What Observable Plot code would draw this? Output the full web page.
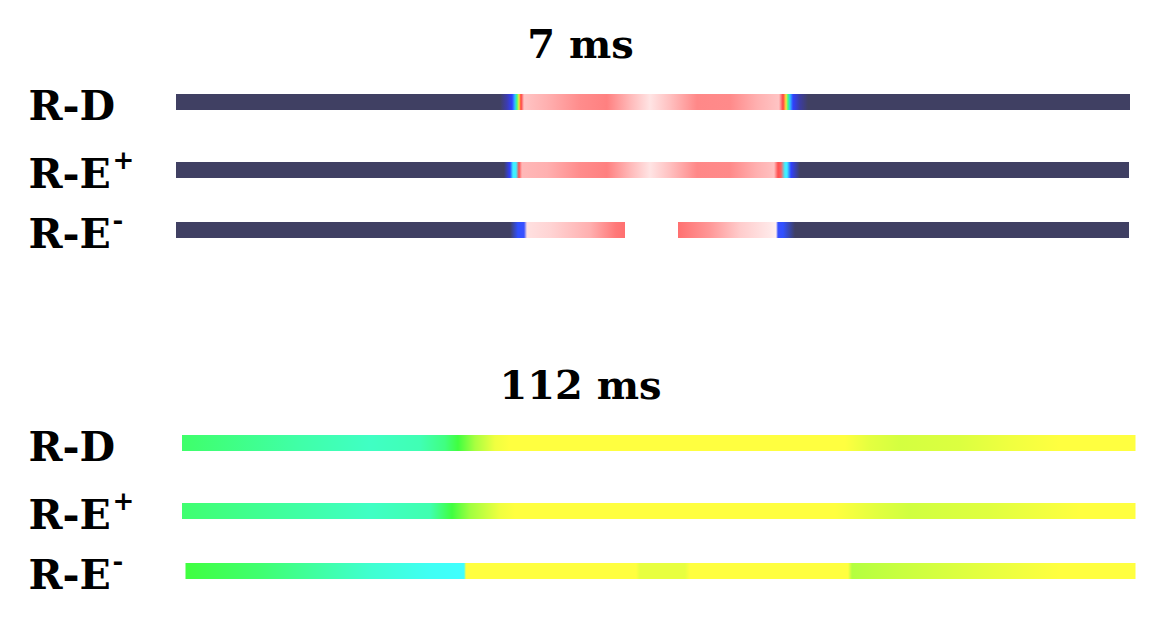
<!DOCTYPE html>
<html>
<head>
<meta charset="utf-8">
<script src="https://cdn.jsdelivr.net/npm/d3@7"></script>
<script src="https://cdn.jsdelivr.net/npm/@observablehq/plot@0.6"></script>
<style>
  html, body { margin: 0; padding: 0; background: #fff; }
  #chart { width: 1165px; height: 620px; }
</style>
</head>
<body>
<div id="chart"></div>
<script>
// ---- data (positions along the strip, in arbitrary position units) ----
const panels = ["7 ms", "112 ms"];
const rows = ["R-D", "R-E+", "R-E-"];
const rowBase = ["R-D", "R-E", "R-E"];
const rowSup = ["", "+", "-"];

const dark = "#404063";

// each segment: panel, row, start, end, colour stops [position, colour]
const seg7_RD = {time: "7 ms", row: "R-D", x1: 0, x2: 954, stops: [
  [0, dark], [324, dark], [331, "#3c3cb0"], [336, "#3040ff"], [339, "#30c0ff"], [341, "#40ff80"],
  [343, "#ffe040"], [345, "#ff4040"], [348, "#ffc4c4"], [371, "#ffb0b0"], [404, "#ff8c8c"],
  [431, "#ff8080"], [454, "#ffb8b8"], [474, "#ffe4e4"], [494, "#ffc0c0"], [521, "#ff8888"],
  [554, "#ff8a8a"], [581, "#ffb0b0"], [603, "#ffc4c4"], [607, "#ff4040"], [610, "#ffe040"],
  [612, "#40ff80"], [614, "#30c0ff"], [617, "#3040ff"], [624, "#3c3ca0"], [632, dark], [954, dark]
]};
const seg7_REp = {time: "7 ms", row: "R-E+", x1: 0, x2: 953, stops: [
  [0, dark], [328, dark], [334, "#3040ff"], [337, "#40f0ff"], [340, "#40f0ff"], [343, "#ff5050"],
  [346, "#ffb8b8"], [371, "#ffb0b0"], [404, "#ff8c8c"], [431, "#ff8080"], [454, "#ffb8b8"],
  [474, "#ffe4e4"], [494, "#ffc0c0"], [521, "#ff8888"], [554, "#ff8a8a"], [581, "#ffb0b0"],
  [598, "#ffc0c0"], [602, "#ff5050"], [605, "#ff6060"], [609, "#40f0ff"], [611, "#40f0ff"],
  [615, "#3040ff"], [624, dark], [953, dark]
]};
const seg7_REm1 = {time: "7 ms", row: "R-E-", x1: 0, x2: 449, stops: [
  [0, dark], [334, dark], [342, "#3050ff"], [348, "#3850ff"], [351, "#ffe0e0"], [374, "#ffd4d4"],
  [414, "#ffb0b0"], [440, "#ff7878"], [449, "#ff7070"]
]};
const seg7_REm2 = {time: "7 ms", row: "R-E-", x1: 502, x2: 953, stops: [
  [502, "#ff7070"], [534, "#ff9898"], [564, "#ffcccc"], [594, "#ffe8e8"], [600, "#fff0f0"],
  [602, "#3850ff"], [607, "#3050ff"], [619, dark], [953, dark]
]};
const seg112_RD = {time: "112 ms", row: "R-D", x1: 6, x2: 959.5, stops: [
  [6, "#3fff6a"], [124, "#40ffa8"], [194, "#40ffc4"], [244, "#40ffb4"], [269, "#40ff80"],
  [282, "#40ff40"], [299, "#a8ff40"], [319, "#f0ff40"], [334, "#ffff40"], [669, "#ffff40"],
  [694, "#e4ff40"], [724, "#d4ff40"], [784, "#dcff40"], [834, "#f0ff40"], [884, "#ffff40"], [959.5, "#ffff40"]
]};
const seg112_REp = {time: "112 ms", row: "R-E+", x1: 6, x2: 959.5, stops: [
  [6, "#40ff70"], [194, "#40ffc4"], [254, "#40ffb0"], [276, "#40ff40"], [294, "#a0ff40"],
  [324, "#f0ff40"], [339, "#ffff40"], [659, "#ffff40"], [704, "#e0ff40"], [734, "#d0ff40"],
  [814, "#e0ff40"], [904, "#ffff40"], [959.5, "#ffff40"]
]};
const seg112_REm = {time: "112 ms", row: "R-E-", x1: 9.5, x2: 959.5, stops: [
  [9.5, "#40ff40"], [84, "#40ff70"], [194, "#40ffd0"], [254, "#40fff4"], [288, "#40ffff"],
  [290, "#ffff40"], [460, "#ffff40"], [464, "#e8ff40"], [509, "#e8ff40"], [514, "#ffff40"],
  [672, "#ffff40"], [676, "#b4ff40"], [724, "#c8ff40"], [804, "#e4ff40"], [884, "#ffff40"], [959.5, "#ffff40"]
]};

const segments = [seg7_RD, seg7_REp, seg7_REm1, seg7_REm2, seg112_RD, seg112_REp, seg112_REm]
  .map((s, i) => ({...s, id: "grad" + i}));

const font = "DejaVu Serif";
const rowShift = {"R-D": 0, "R-E+": 4, "R-E-": 0};

const marks = [
  Plot.text(panels, {
    fy: d => d, text: d => d, frameAnchor: "top", dy: -25, dx: -73,
    lineAnchor: "middle", fontSize: 40, fontWeight: "bold", fontFamily: font
  })
];
for (const [ri, r] of rows.entries()) {
  const sh = rowShift[r];
  marks.push(
    Plot.barX(segments.filter(s => s.row === r), {
      x1: "x1", x2: "x2", y: "row", fy: "time", dy: sh,
      fill: d => `url(#${d.id})`
    }),
    Plot.text([r], {
      y: d => d, text: () => rowBase[ri], frameAnchor: "left", dx: -148, dy: 4 + sh,
      textAnchor: "start", lineAnchor: "middle", fontSize: 41, fontWeight: "bold", fontFamily: font
    }),
    Plot.text([r], {
      y: d => d, text: () => rowSup[ri], frameAnchor: "left", dx: -64, dy: -10 + sh,
      textAnchor: "start", lineAnchor: "middle", fontSize: 26, fontWeight: "bold", fontFamily: font
    })
  );
}

const plot = Plot.plot({
  width: 1165,
  height: 620,
  marginLeft: 176,
  marginRight: 35,
  marginTop: 70,
  marginBottom: 17,
  style: {background: "#fff", fontFamily: font},
  x: {domain: [0, 954], axis: null},
  y: {domain: rows, paddingInner: 0.75, paddingOuter: 0.375, axis: null},
  fy: {domain: panels, paddingInner: 0.437, paddingOuter: 0, axis: null},
  color: {type: "identity"},
  marks
});

// gradients for each segment, built from the colour stops
const defs = d3.select(plot).insert("defs", ":first-child");
for (const s of segments) {
  const g = defs.append("linearGradient")
    .attr("id", s.id)
    .attr("x1", 0).attr("x2", 1).attr("y1", 0).attr("y2", 0);
  for (const [p, c] of s.stops) {
    g.append("stop")
      .attr("offset", Math.max(0, Math.min(1, (p - s.x1) / (s.x2 - s.x1))))
      .attr("stop-color", c);
  }
}

document.getElementById("chart").appendChild(plot);
</script>
</body>
</html>
